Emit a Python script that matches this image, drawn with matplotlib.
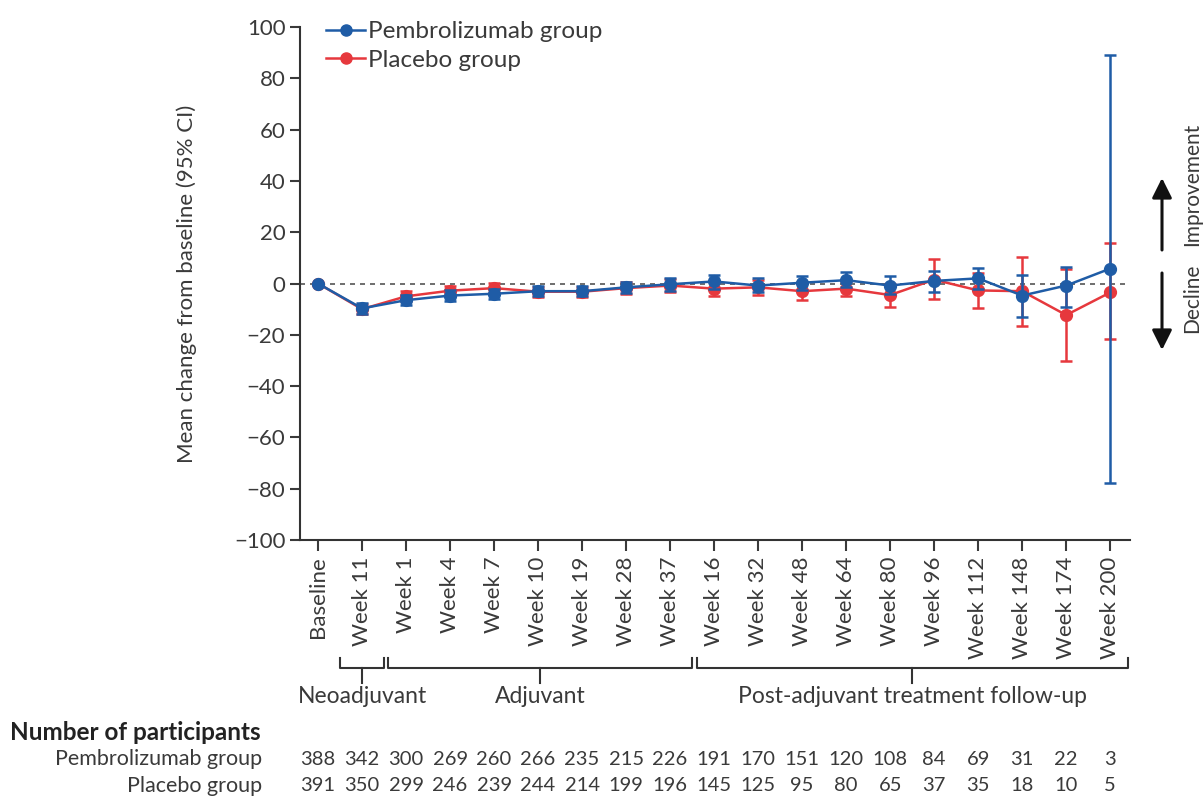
import matplotlib
matplotlib.use('Agg')
import matplotlib.pyplot as plt
from matplotlib.lines import Line2D
from matplotlib.patches import FancyArrowPatch

# time points and participant numbers
visits = ['Baseline', 'Week 11', 'Week 1', 'Week 4', 'Week 7', 'Week 10', 'Week 19',
          'Week 28', 'Week 37', 'Week 16', 'Week 32', 'Week 48', 'Week 64', 'Week 80',
          'Week 96', 'Week 112', 'Week 148', 'Week 174', 'Week 200']
n_pembro = [388, 342, 300, 269, 260, 266, 235, 215, 226, 191, 170, 151, 120, 108, 84, 69, 31, 22, 3]
n_placebo = [391, 350, 299, 246, 239, 244, 214, 199, 196, 145, 125, 95, 80, 65, 37, 35, 18, 10, 5]

# mean change from baseline with 95% CI
pembro_mean = [0, -9.7, -6.5, -4.7, -4.0, -3.0, -3.0, -1.5, -0.3, 0.8, -0.8, 0.3, 1.3, -0.8, 1.0, 2.0, -4.7, -0.8, 5.8]
pembro_lo = [0, -12.0, -8.5, -6.7, -6.0, -5.0, -5.0, -3.7, -2.8, -2.0, -3.5, -2.5, -1.5, -4.0, -3.5, -2.0, -13.0, -9.0, -77.6]
pembro_hi = [0, -7.5, -4.5, -2.7, -2.0, -1.0, -1.0, 0.7, 2.2, 3.5, 2.0, 3.0, 4.5, 3.0, 5.0, 6.0, 3.5, 6.6, 89.0]

placebo_mean = [0, -10.0, -5.0, -2.8, -1.8, -3.2, -3.2, -1.8, -0.8, -2.0, -1.5, -3.0, -2.0, -4.5, 1.5, -2.7, -3.0, -12.3, -3.5]
placebo_lo = [0, -12.0, -7.0, -4.8, -3.8, -5.2, -5.2, -4.0, -3.3, -4.8, -4.5, -6.5, -5.0, -9.0, -6.0, -9.5, -16.4, -30.4, -21.8]
placebo_hi = [0, -8.0, -3.0, -0.8, 0.2, -1.2, -1.2, 0.4, 1.7, 0.8, 1.5, 0.5, 1.0, 0.0, 9.7, 4.0, 10.5, 5.8, 15.6]

phases = ['Neoadjuvant', 'Adjuvant', 'Post-adjuvant treatment follow-up']
phase_spans = [(0.5, 1.5), (1.6, 8.5), (8.6, 18.4)]
phase_centres = [1, 5.05, 13.5]

blue = '#1f5ca6'
red = '#e6383d'
grey = '#3a3a3a'
plt.rcParams['font.family'] = ['Lato', 'DejaVu Sans']
plt.rcParams['text.color'] = grey
plt.rcParams['axes.labelcolor'] = grey
plt.rcParams['xtick.color'] = grey
plt.rcParams['ytick.color'] = grey

fig = plt.figure(figsize=(12.04, 7.98), dpi=100)
ax = fig.add_axes([300 / 1204, 1 - 540 / 798, 830 / 1204, 513 / 798])

x = list(range(len(visits)))

def draw(mean, lo, hi, color, z):
    err = [[m - l for m, l in zip(mean, lo)], [h - m for m, h in zip(mean, hi)]]
    ax.errorbar(x, mean, yerr=err, color=color, ecolor=color, lw=1.8, elinewidth=1.8,
                capsize=4, capthick=1.8, marker='o', ms=8.5, zorder=z)

draw(placebo_mean, placebo_lo, placebo_hi, red, 3)
draw(pembro_mean, pembro_lo, pembro_hi, blue, 4)

ax.axhline(0, color='#555555', lw=1.2, ls=(0, (3, 3)), zorder=1)

ax.set_xlim(-0.41, 18.45)
ax.set_ylim(-100, 100)
ax.set_yticks(range(-100, 101, 20))
ax.set_xticks(x)
ax.set_xticklabels(visits, rotation=90, fontsize=16)
ax.tick_params(axis='y', labelsize=16, length=7, width=1.5)
ax.tick_params(axis='x', length=8, width=1.5, pad=4)
for s in ['top', 'right']:
    ax.spines[s].set_visible(False)
for s in ['left', 'bottom']:
    ax.spines[s].set_linewidth(1.5)
    ax.spines[s].set_color('#333333')
ax.set_ylabel('Mean change from baseline (95% CI)', fontsize=16)
ax.yaxis.set_label_coords(-0.124, 0.5)

handles = [Line2D([], [], color=blue, lw=1.8, marker='o', ms=8),
           Line2D([], [], color=red, lw=1.8, marker='o', ms=8)]
ax.legend(handles, ['Pembrolizumab group', 'Placebo group'], loc='upper left',
          bbox_to_anchor=(0.02, 1.03), frameon=False, fontsize=17.5, handlelength=1.6,
          handletextpad=0.1, labelspacing=0.3, borderaxespad=0)

# treatment phase brackets
tr = ax.get_xaxis_transform()
for name, (a, b), c in zip(phases, phase_spans, phase_centres):
    ax.plot([a, a, b, b], [-0.230, -0.2495, -0.2495, -0.230], color='#333333', lw=1.5,
            transform=tr, clip_on=False)
    ax.plot([c, c], [-0.2495, -0.279], color='#333333', lw=1.5, transform=tr, clip_on=False)
    ax.text(c, -0.306, name, transform=tr, ha='center', va='center', fontsize=16.5)

# number of participants table
fig.text(10 / 1204, 1 - 733 / 798, 'Number of participants', fontsize=17.5, fontweight='bold',
         ha='left', va='center', color='#222222')
fig.text(262 / 1204, 1 - 759 / 798, 'Pembrolizumab group', fontsize=15.5, ha='right', va='center')
fig.text(262 / 1204, 1 - 786 / 798, 'Placebo group', fontsize=15.5, ha='right', va='center')
for i in x:
    ax.text(i, -0.427, str(n_pembro[i]), transform=tr, ha='center', va='center', fontsize=14.5)
    ax.text(i, -0.4795, str(n_placebo[i]), transform=tr, ha='center', va='center', fontsize=14.5)

# direction arrows on the right
for y0, y1 in [(250, 178), (273, 350)]:
    fig.patches.append(FancyArrowPatch(
        (1162 / 1204, 1 - y0 / 798), (1162 / 1204, 1 - y1 / 798), transform=fig.transFigure,
        arrowstyle='-|>', mutation_scale=30, color='#111111', lw=2.2,
        shrinkA=0, shrinkB=0))
fig.text(1192 / 1204, 1 - 184 / 798, 'Improvement', rotation=90, fontsize=15, ha='center', va='center')
fig.text(1192 / 1204, 1 - 298 / 798, 'Decline', rotation=90, fontsize=15, ha='center', va='center')

fig.savefig('out.png', dpi=100)
